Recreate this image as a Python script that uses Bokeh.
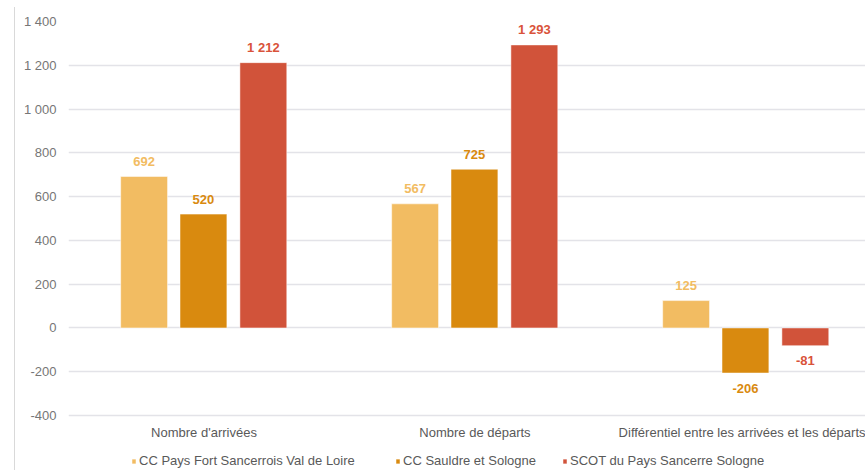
from bokeh.plotting import figure
from bokeh.models import ColumnDataSource, FixedTicker, Legend, LegendItem
from bokeh.embed import file_html
from bokeh.resources import INLINE
from bokeh.core.properties import value

# ---- data ----
categories = ["Nombre d'arrivées", "Nombre de départs", "Différentiel entre les arrivées et les départs"]
series_names = ["CC Pays Fort Sancerrois Val de Loire", "CC Sauldre et Sologne", "SCOT du Pays Sancerre Sologne"]
cc_pays_fort = [692, 567, 125]
cc_sauldre = [520, 725, -206]
scot = [1212, 1293, -81]
y_ticks = [-400, -200, 0, 200, 400, 600, 800, 1000, 1200, 1400]
y_tick_labels = ["-400", "-200", "0", "200", "400", "600", "800", "1 000", "1 200", "1 400"]

colors = ["#F2BC62", "#D98A0F", "#D1533A"]
label_colors = ["#F2BC62", "#D98A0F", "#D9533A"]
offsets = [-0.221, -0.002, 0.219]
bar_w = 0.173
legend_x = [63, 327, 494]

FONT = "Liberation Sans"

def fmt(v):
    s = f"{abs(v):,}".replace(",", " ")
    return ("-" if v < 0 else "") + s

p = figure(width=865, height=473, output_backend="svg", toolbar_location=None,
           x_range=(0, 2.941), y_range=(-665, 1400),
           min_border_left=68, min_border_right=0, min_border_top=21, min_border_bottom=0)
p.outline_line_color = None
p.background_fill_color = "white"
p.border_fill_alpha = 0
p.styles = {
    "background-color": "white",
    "background-image": "linear-gradient(#D9D9D9, #D9D9D9)",
    "background-size": "1px 463px",
    "background-position": "14px 7px",
    "background-repeat": "no-repeat",
}

centers = [i + 0.5 for i in range(len(categories))]
renderers = []
for s_idx, vals in enumerate([cc_pays_fort, cc_sauldre, scot]):
    xs = [c + offsets[s_idx] for c in centers]
    src = ColumnDataSource(dict(
        x=xs, top=vals,
        lab=[fmt(v) for v in vals],
        yoff=[-15 if v >= 0 else 15 for v in vals],
    ))
    r = p.vbar(x="x", top="top", bottom=0, width=bar_w, source=src,
               fill_color=colors[s_idx], line_color="white", line_width=0.5)
    renderers.append(r)
    p.text(x="x", y="top", text="lab", source=src, y_offset="yoff",
           text_align="center", text_baseline="middle",
           text_font=value(FONT), text_font_size="13px", text_font_style="bold",
           text_color=label_colors[s_idx])

# axes
p.yaxis.ticker = FixedTicker(ticks=y_ticks)
p.yaxis.major_label_overrides = {t: l for t, l in zip(y_ticks, y_tick_labels)}
p.yaxis.axis_line_color = None
p.yaxis.major_tick_line_color = None
p.yaxis.minor_tick_line_color = None
p.yaxis.major_label_standoff = 6
p.yaxis.major_label_text_font = FONT
p.yaxis.major_label_text_font_size = "13px"
p.yaxis.major_label_text_color = "#767676"

p.xaxis.ticker = FixedTicker(ticks=centers)
p.xaxis.fixed_location = -400
p.xaxis.major_label_overrides = {c: n for c, n in zip(centers, categories)}
p.xaxis.axis_line_color = None
p.xaxis.major_tick_line_color = None
p.xaxis.minor_tick_line_color = None
p.xaxis.major_label_standoff = 4
p.xaxis.major_label_text_font = FONT
p.xaxis.major_label_text_font_size = "13px"
p.xaxis.major_label_text_color = "#595959"

p.xgrid.grid_line_color = None
p.ygrid.grid_line_color = "#E3E3E8"
p.ygrid.grid_line_width = 1.6

for name, r, lx in zip(series_names, renderers, legend_x):
    lg = Legend(items=[LegendItem(label=name, renderers=[r])],
                orientation="horizontal", location=(lx, 5),
                glyph_width=5, glyph_height=6, label_standoff=3, spacing=0,
                label_text_font=FONT, label_text_font_size="13px", label_text_color="#595959",
                border_line_color=None, background_fill_alpha=0, margin=0, padding=0,
                label_height=13)
    p.add_layout(lg, "center")

open("out.html", "w").write(file_html(p, INLINE))
